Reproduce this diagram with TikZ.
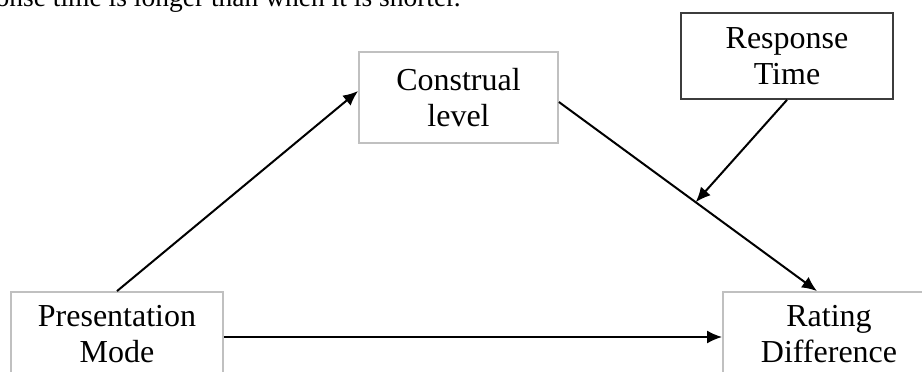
\documentclass[tikz,border=0pt]{standalone}
\usepackage{fontspec}
\setmainfont{Liberation Serif}
\usetikzlibrary{arrows.meta,calc}
\definecolor{lightframe}{RGB}{192,192,192}
\definecolor{darkframe}{RGB}{60,60,60}
\tikzset{
  lbl/.style={font=\fontsize{32}{36}\selectfont, align=center, inner sep=0pt},
  softbox/.style={lbl, draw=lightframe, line width=1.8pt},
  hardbox/.style={lbl, draw=darkframe, line width=1.8pt},
  conn/.style={line width=2pt, -{Latex[length=15pt,width=13pt]}},
}
\begin{document}
\begin{tikzpicture}[x=1pt,y=-1pt]
\useasboundingbox (0,0) rectangle (922,372);
\clip (0,0) rectangle (922,372);
\fill[white] (0,0) rectangle (922,372);
\node[inner sep=0pt, font=\fontsize{27.5}{33}\selectfont, anchor=base east] (top) at (461,6) {onse time is longer than when it is shorter.};
\node[softbox, minimum width=199pt, minimum height=91pt] (cl) at (458.5,97.5) {Construal\\level};
\node[hardbox, minimum width=212pt, minimum height=86pt] (rt) at (787,56) {Response\\Time};
\node[softbox, minimum width=212pt, minimum height=85pt] (pm) at (117,334.5) {Presentation\\Mode};
\node[softbox, minimum width=212pt, minimum height=85pt] (rd) at (829,334.5) {Rating\\Difference};
\draw[conn] (pm.north) -- ([yshift=6.5pt]cl.west);
\draw[conn] ([yshift=-2.5pt]pm.east) -- ([yshift=-2.5pt]rd.west);
\draw[conn] ([yshift=-4.5pt]cl.east) -- ([xshift=-12pt]rd.north) coordinate[pos=0.53] (m);
\draw[conn] (rt.south) -- (m);
\end{tikzpicture}
\end{document}
